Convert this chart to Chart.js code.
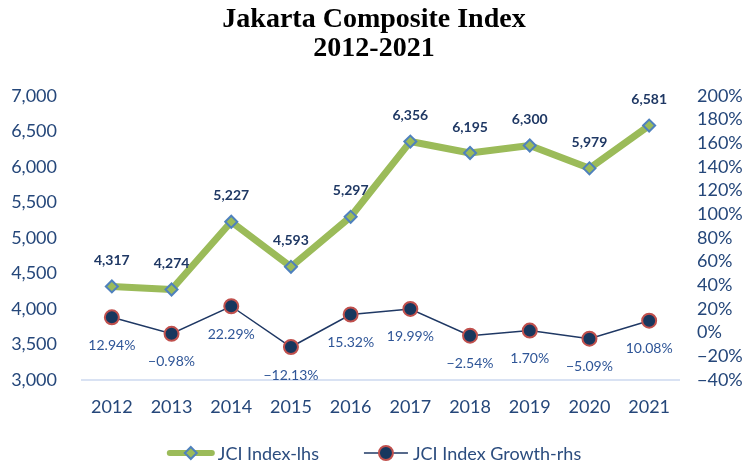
<!DOCTYPE html>
<html>
<head>
<meta charset="utf-8">
<script src="https://cdn.jsdelivr.net/npm/chart.js@4"></script>
<style>
  html, body { margin: 0; padding: 0; background: #ffffff; }
  #wrap { width: 748px; height: 463px; position: relative; }
</style>
</head>
<body>
<div id="wrap"><canvas id="c" width="748" height="463"></canvas></div>
<script>
const years = ['2012','2013','2014','2015','2016','2017','2018','2019','2020','2021'];
const jciIndex = [4317, 4274, 5227, 4593, 5297, 6356, 6195, 6300, 5979, 6581];
const jciGrowth = [12.94, -0.98, 22.29, -12.13, 15.32, 19.99, -2.54, 1.70, -5.09, 10.08];
const leftTicks = [3000, 3500, 4000, 4500, 5000, 5500, 6000, 6500, 7000];
const rightTicks = [-40, -20, 0, 20, 40, 60, 80, 100, 120, 140, 160, 180, 200];

const FONT = 'Lato, "Open Sans", sans-serif';
const TICK_COLOR = '#25477A';

function fmtThousands(v) { return v.toLocaleString('en-US'); }
function fmtPct(v) { return (v < 0 ? '\u2212' : '') + Math.abs(v).toFixed(2) + '%'; }
function fmtAxisPct(v) { return (v < 0 ? '\u2212' : '') + Math.abs(v) + '%'; }

const dataLabels = {
  id: 'dataLabels',
  afterDatasetsDraw(chart) {
    const ctx = chart.ctx;
    ctx.save();
    ctx.textAlign = 'center';
    ctx.textBaseline = 'middle';
    chart.data.datasets.forEach((ds, di) => {
      const meta = chart.getDatasetMeta(di);
      meta.data.forEach((pt, i) => {
        const v = ds.data[i];
        if (ds.yAxisID === 'y') {
          ctx.font = 'bold 14px ' + FONT;
          ctx.fillStyle = '#1F3864';
          ctx.fillText(fmtThousands(v), pt.x, pt.y - 26);
        } else {
          ctx.font = '14px ' + FONT;
          ctx.fillStyle = '#2E5597';
          ctx.fillText(fmtPct(v), pt.x, pt.y + 28);
        }
      });
    });
    ctx.restore();
  }
};

const customLegend = {
  id: 'customLegend',
  afterDraw(chart) {
    const ctx = chart.ctx;
    const ds = chart.data.datasets;
    ctx.save();
    ctx.font = '18px ' + FONT;
    ctx.textBaseline = 'middle';
    const t1 = ds[0].label, t2 = ds[1].label;
    const w1 = 48 + 3 + ctx.measureText(t1).width;
    const w2 = 44 + 5 + ctx.measureText(t2).width;
    const gap = 45;
    const total = w1 + gap + w2;
    let x = (chart.width - total) / 2;
    const y = 453;
    ctx.strokeStyle = ds[0].borderColor;
    ctx.lineWidth = 6;
    ctx.lineCap = 'round';
    ctx.beginPath(); ctx.moveTo(x + 3, y); ctx.lineTo(x + 45, y); ctx.stroke();
    const cx1 = x + 24;
    ctx.beginPath();
    ctx.moveTo(cx1, y - 6); ctx.lineTo(cx1 + 6, y); ctx.lineTo(cx1, y + 6); ctx.lineTo(cx1 - 6, y); ctx.closePath();
    ctx.fillStyle = ds[0].pointBackgroundColor; ctx.fill();
    ctx.lineWidth = 2; ctx.strokeStyle = ds[0].pointBorderColor; ctx.stroke();
    ctx.fillStyle = '#2B4C7E';
    ctx.fillText(t1, x + 51, y + 1);
    x += w1 + gap;
    ctx.strokeStyle = ds[1].borderColor;
    ctx.lineWidth = 1.5;
    ctx.lineCap = 'butt';
    ctx.beginPath(); ctx.moveTo(x, y); ctx.lineTo(x + 44, y); ctx.stroke();
    ctx.beginPath(); ctx.arc(x + 22, y, 7, 0, Math.PI * 2);
    ctx.fillStyle = ds[1].pointBackgroundColor; ctx.fill();
    ctx.lineWidth = 2; ctx.strokeStyle = ds[1].pointBorderColor; ctx.stroke();
    ctx.fillStyle = '#2B4C7E';
    ctx.fillText(t2, x + 49, y + 1);
    ctx.restore();
  }
};

new Chart(document.getElementById('c'), {
  type: 'line',
  data: {
    labels: years,
    datasets: [
      {
        label: 'JCI Index-lhs',
        data: jciIndex,
        yAxisID: 'y',
        borderColor: '#9BBB59',
        borderWidth: 7,
        borderCapStyle: 'round',
        borderJoinStyle: 'round',
        pointStyle: 'rectRot',
        pointRadius: 6,
        pointHoverRadius: 6,
        pointBackgroundColor: '#9BBB59',
        pointBorderColor: '#4F81BD',
        pointBorderWidth: 2,
        tension: 0,
        order: 1
      },
      {
        label: 'JCI Index Growth-rhs',
        data: jciGrowth,
        yAxisID: 'y1',
        borderColor: '#1F3864',
        borderWidth: 1.5,
        pointStyle: 'circle',
        pointRadius: 7,
        pointHoverRadius: 7,
        pointBackgroundColor: '#17375E',
        pointBorderColor: '#C0504D',
        pointBorderWidth: 2,
        tension: 0,
        order: 2
      }
    ]
  },
  options: {
    responsive: false,
    animation: false,
    events: [],
    layout: { padding: { left: 0, right: 0, top: 0, bottom: 0 } },
    plugins: {
      legend: { display: false },
      tooltip: { enabled: false },
      title: {
        display: true,
        text: ['Jakarta Composite Index', '2012-2021'],
        color: '#000000',
        font: { family: '"Liberation Serif", "Times New Roman", serif', size: 28, weight: 'bold', lineHeight: 1.05 },
        padding: { top: 5, bottom: 32 }
      }
    },
    scales: {
      x: {
        offset: true,
        grid: { display: false, drawTicks: false },
        border: { display: true, color: '#D9E2F3', width: 2 },
        ticks: { color: TICK_COLOR, font: { family: FONT, size: 18 }, padding: 16, maxRotation: 0, autoSkip: false },
        afterFit(scale) { scale.height = 83; }
      },
      y: {
        position: 'left',
        min: leftTicks[0],
        max: leftTicks[leftTicks.length - 1],
        afterBuildTicks(scale) { scale.ticks = leftTicks.map(v => ({ value: v })); },
        grid: { display: false, drawTicks: false },
        border: { display: false },
        ticks: { color: TICK_COLOR, font: { family: FONT, size: 18 }, padding: 25, autoSkip: false, callback: v => fmtThousands(v) },
        afterFit(scale) { scale.width = 82; }
      },
      y1: {
        position: 'right',
        min: rightTicks[0],
        max: rightTicks[rightTicks.length - 1],
        afterBuildTicks(scale) { scale.ticks = rightTicks.map(v => ({ value: v })); },
        grid: { display: false, drawTicks: false },
        border: { display: false },
        ticks: { color: TICK_COLOR, font: { family: FONT, size: 18 }, padding: 18, autoSkip: false, callback: v => fmtAxisPct(v) },
        afterFit(scale) { scale.width = 69; }
      }
    }
  },
  plugins: [dataLabels, customLegend]
});
</script>
</body>
</html>
